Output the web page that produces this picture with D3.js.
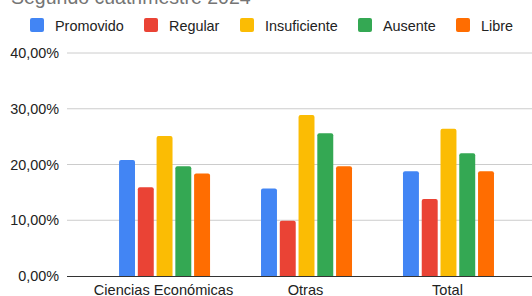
<!DOCTYPE html>
<html>
<head>
<meta charset="utf-8">
<script src="https://cdn.jsdelivr.net/npm/d3@7"></script>
<style>
  body { margin: 0; background: #fff; overflow: hidden; }
  text { font-family: "Liberation Sans", Arial, sans-serif; }
</style>
</head>
<body>
<svg id="chart" width="532" height="296"></svg>
<script>
// data
var categories = ["Ciencias Económicas", "Otras", "Total"];
var series = ["Promovido", "Regular", "Insuficiente", "Ausente", "Libre"];
var colors = ["#4285F4", "#EA4335", "#FBBC04", "#34A853", "#FF6D01"];
var promovido = [20.8, 15.7, 18.8];
var regular = [15.9, 9.9, 13.8];
var insuficiente = [25.1, 28.9, 26.4];
var ausente = [19.7, 25.6, 22.0];
var libre = [18.4, 19.7, 18.8];
var yTicks = [0, 10, 20, 30, 40];
var values = [promovido, regular, insuficiente, ausente, libre];

var svg = d3.select("#chart");
var plotLeft = 67, plotBottom = 276, plotTop = 53;

var x0 = d3.scaleBand().domain(categories).range([plotLeft, 544]).paddingInner(0).paddingOuter(0.18);
var x1 = d3.scaleBand().domain(series).range([26.5, 117.5]).paddingInner(0.15);
var y = d3.scaleLinear().domain([0, 40]).range([plotBottom, plotTop]);

// title (mostly cropped off at the top)
svg.append("text")
  .attr("x", 11).attr("y", 4)
  .attr("font-size", 19.5)
  .attr("fill", "#757575")
  .text("Segundo cuatrimestre 2024");

// legend
var legX = [30, 144, 240, 358, 456];
var leg = svg.selectAll(".leg").data(series).enter().append("g")
  .attr("transform", function(d, i) { return "translate(" + legX[i] + ",18)"; });
leg.append("rect").attr("width", 14).attr("height", 14).attr("rx", 2)
  .attr("fill", function(d, i) { return colors[i]; });
leg.append("text").attr("x", 25).attr("y", 12.5)
  .attr("font-size", 14.4).attr("fill", "#222")
  .text(function(d) { return d; });

// grid + y labels
var fmt = function(v) { return v.toFixed(2).replace(".", ",") + "%"; };
svg.selectAll(".grid").data(yTicks.filter(function(t) { return t > 0; })).enter().append("line")
  .attr("x1", plotLeft).attr("x2", 532)
  .attr("y1", function(d) { return y(d); }).attr("y2", function(d) { return y(d); })
  .attr("stroke", "#ccc").attr("stroke-width", 1);

svg.selectAll(".ylab").data(yTicks).enter().append("text")
  .attr("x", 59).attr("y", function(d) { return y(d) + 5; })
  .attr("text-anchor", "end").attr("font-size", 14.4).attr("fill", "#222")
  .text(fmt);

// bars with rounded tops
function barPath(x, yTop, w, h) {
  var r = Math.min(2, h);
  return "M" + x + "," + (yTop + h) +
    "V" + (yTop + r) +
    "Q" + x + "," + yTop + " " + (x + r) + "," + yTop +
    "H" + (x + w - r) +
    "Q" + (x + w) + "," + yTop + " " + (x + w) + "," + (yTop + r) +
    "V" + (yTop + h) + "Z";
}

var groups = svg.selectAll(".grp").data(categories).enter().append("g")
  .attr("transform", function(d) { return "translate(" + x0(d) + ",0)"; });

groups.selectAll("path").data(function(c, ci) {
  return series.map(function(s, si) { return { s: s, si: si, v: values[si][ci] }; });
}).enter().append("path")
  .attr("d", function(d) {
    return barPath(x1(d.s), y(d.v), x1.bandwidth(), plotBottom - y(d.v));
  })
  .attr("fill", function(d) { return colors[d.si]; });

// baseline
svg.append("line").attr("x1", plotLeft).attr("x2", 532)
  .attr("y1", plotBottom + 0.5).attr("y2", plotBottom + 0.5)
  .attr("stroke", "#333").attr("stroke-width", 1);

// x labels
svg.selectAll(".xlab").data(categories).enter().append("text")
  .attr("x", function(d) { return x0(d) + x0.bandwidth() / 2; })
  .attr("y", 295)
  .attr("text-anchor", "middle").attr("font-size", 14.6).attr("fill", "#222")
  .text(function(d) { return d; });
</script>
</body>
</html>
